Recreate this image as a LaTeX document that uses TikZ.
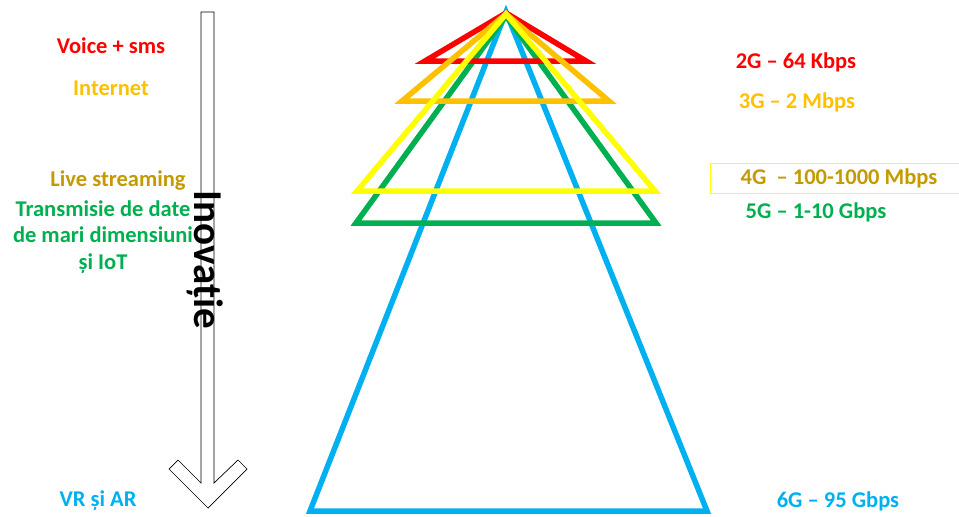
\documentclass[tikz,border=0pt]{standalone}
\usepackage{fontspec}
\setmainfont{Carlito}
\definecolor{cRed}{HTML}{FF0000}
\definecolor{cOrange}{HTML}{FFC000}
\definecolor{cYellow}{HTML}{FFFF00}
\definecolor{cGreen}{HTML}{00B050}
\definecolor{cBlue}{HTML}{00B0F0}
\definecolor{cGold}{HTML}{C49A00}
\begin{document}
\begin{tikzpicture}[x=1pt,y=-1pt,
  lbl/.style={font=\fontsize{22.5}{26.5}\selectfont\bfseries, inner sep=0pt, align=center},
  tri/.style={line width=5.5pt, line join=miter}]
\useasboundingbox (0,0) rectangle (959,517);
% triangles
\coordinate (apex) at (506,12);
\draw[tri, cBlue] (apex) -- (310,511) -- (707,511) -- cycle;
\draw[tri, cGreen] (506,16) -- (356,223) -- (656,223) -- cycle;
\draw[tri, cRed] (506,13) -- (425,61) -- (586,61) -- cycle;
\draw[tri, cOrange] (506,14) -- (402,101) -- (609,101) -- cycle;
\draw[tri, cYellow] (506,14) -- (357,191) -- (655,191) -- cycle;
% arrow
\draw[black, line width=0.7pt, fill=white]
  (201,12) -- (214,12) -- (214,483) -- (238,460) -- (247,469) -- (208,508)
  -- (169,469) -- (178,460) -- (201,483) -- cycle;
\node[font=\fontsize{41}{41}\selectfont\bfseries, rotate=-90, inner sep=0pt] (inov) at (205,260) {Inovație};
% left labels
\node[lbl, cRed] (voice) at (111,46) {Voice + sms};
\node[lbl, cOrange] (internet) at (111,88) {Internet};
\node[lbl, cGold] (live) at (118,181) {Live streaming};
\node[lbl, cGreen] (trans) at (103,237) {Transmisie de date\\de mari dimensiuni\\și IoT};
\node[lbl, cBlue] (vr) at (98,501) {VR și AR};
% right labels
\node[lbl, cRed] (g2) at (796,62) {2G – 64 Kbps};
\node[lbl, cOrange] (g3) at (797,102) {3G – 2 Mbps};
\draw[cYellow, line width=1pt] (710,163) rectangle (962,193);
\node[lbl, cGold] (g4) at (839,178) {4G\ \ – 100-1000 Mbps};
\node[lbl, cGreen] (g5) at (816,212) {5G – 1-10 Gbps};
\node[lbl, cBlue] (g6) at (838,501) {6G – 95 Gbps};
\end{tikzpicture}
\end{document}
